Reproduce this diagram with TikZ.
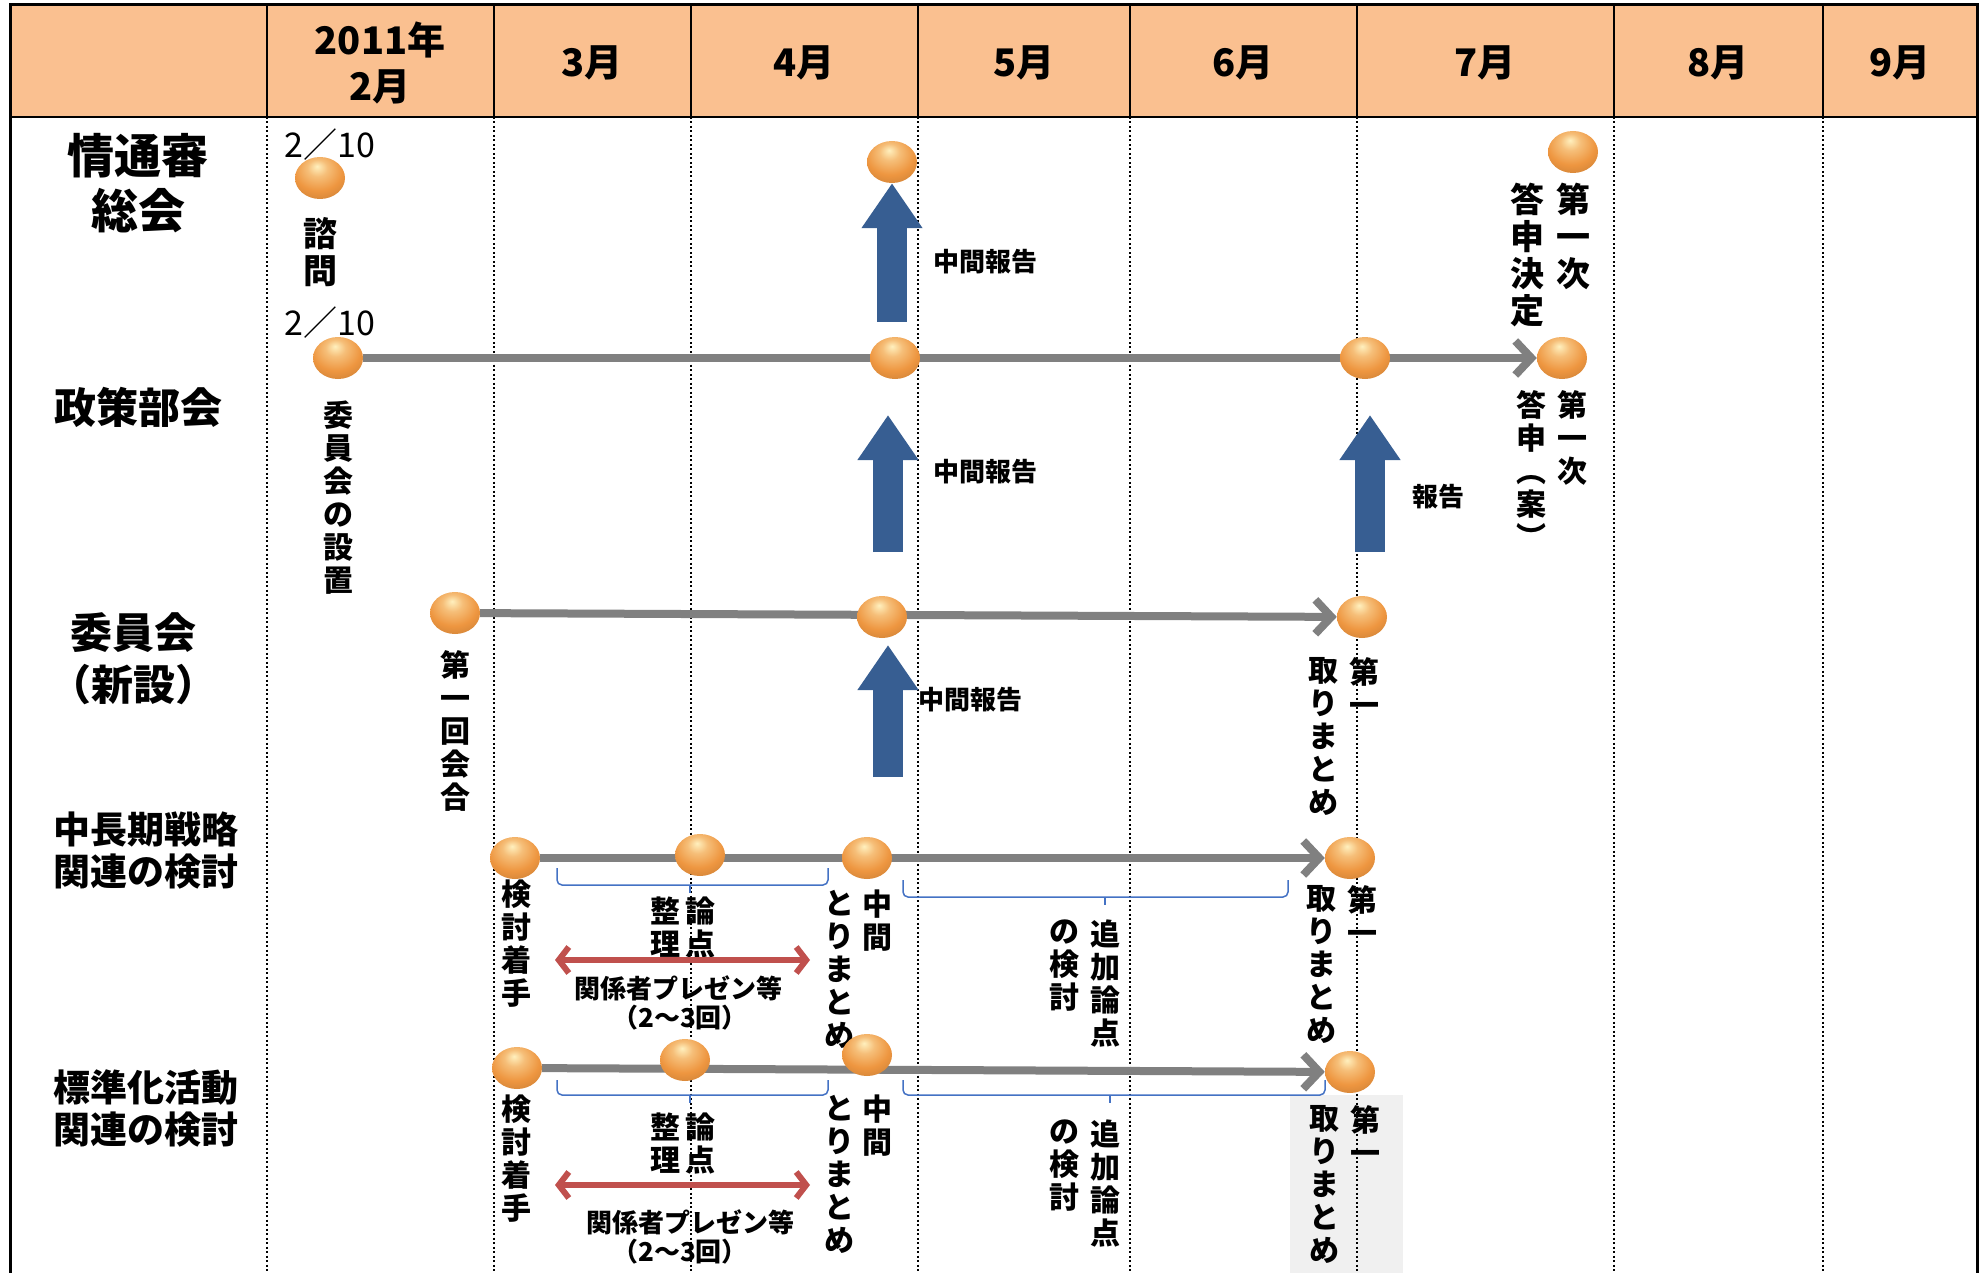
\documentclass[tikz,border=0pt]{standalone}
\usepackage{fontspec}
\setmainfont{Noto Sans CJK JP}
\usetikzlibrary{arrows.meta,backgrounds,positioning,shapes.geometric}

\definecolor{headfill}{RGB}{250,192,144}
\definecolor{beadcol}{RGB}{238,150,64}
\definecolor{beadhi}{RGB}{255,240,190}
\definecolor{repblue}{RGB}{55,94,146}
\definecolor{trackgray}{RGB}{128,128,128}
\definecolor{presred}{RGB}{192,80,77}
\definecolor{bracecol}{RGB}{68,114,196}

\pgfdeclareradialshading{beadshade}{\pgfpoint{-3bp}{14bp}}{%
  color(0bp)=(beadhi); color(10bp)=(beadcol!55!beadhi); color(24bp)=(beadcol);
  color(38bp)=(beadcol!85!black); color(50bp)=(beadcol!55!black); color(64bp)=(beadcol!40!black)}

\tikzset{
  bead/.style={ellipse,minimum width=50pt,minimum height=42pt,inner sep=0pt,shading=beadshade},
  track/.style={draw=trackgray,line width=8pt,-{Straight Barb[length=16pt,width=34pt]}},
  report/.style={draw=repblue,line width=30pt,-{Triangle[length=45pt,width=58pt]}},
  presen/.style={draw=presred,line width=6pt,{Straight Barb[length=10pt,width=26pt]}-{Straight Barb[length=10pt,width=26pt]}},
  brk/.style={draw=bracecol,line width=1.5pt,rounded corners=5pt},
  monthline/.style={line width=2pt,dash pattern=on 2pt off 2.5pt},
  rowlab/.style={font=\bfseries\fontsize{42}{52}\selectfont,align=center},
  rowlabs/.style={font=\bfseries\fontsize{37}{42}\selectfont,align=center},
  monthlab/.style={font=\bfseries\fontsize{38}{46}\selectfont,align=center},
  tate/.style={font=\bfseries\fontsize{30}{33}\selectfont,align=center,anchor=north,inner sep=0pt},
  tatebig/.style={tate,font=\bfseries\fontsize{34}{37}\selectfont},
  note/.style={font=\bfseries\fontsize{26}{30}\selectfont,align=center},
  datelab/.style={font=\fontsize{34}{36}\selectfont},
}

\begin{document}
\begin{tikzpicture}[x=1pt,y=-1pt]
  \useasboundingbox (0,0) rectangle (1981,1273);

  % grid and header
  \begin{scope}[on background layer]
    \fill[headfill] (10,5) rectangle (1977,117);
    \fill[gray!12] (1290,1095) rectangle (1403,1273);
    \foreach \x in {267,494,691,918,1130,1357,1614,1823} {
      \draw[line width=2pt] (\x,5) -- (\x,117);
      \draw[monthline] (\x,117) -- (\x,1273);
    }
    \draw[line width=2pt] (10,117) -- (1977,117);
    \draw[line width=3pt] (10,1273) -- (10,5) -- (1977,5) -- (1977,1273);
  \end{scope}

  \node[monthlab] (feb) at (380,63) {2011年\\2月};
  \node[monthlab] (mar) at (592,63) {3月};
  \node[monthlab] (apr) at (804,63) {4月};
  \node[monthlab] (may) at (1024,63) {5月};
  \node[monthlab] (jun) at (1243,63) {6月};
  \node[monthlab] (jul) at (1485,63) {7月};
  \node[monthlab] (aug) at (1718,63) {8月};
  \node[monthlab] (sep) at (1900,63) {9月};

  % row labels
  \node[rowlab,font=\bfseries\fontsize{47}{55}\selectfont] (soukai) at (138,183) {情通審\\総会};
  \node[rowlab] (bukai) at (138,407) {政策部会};
  \node[rowlab] (iinkai) at (133,659) {委員会\\（新設）};
  \node[rowlabs] (chuchoki) at (146,851) {中長期戦略\\関連の検討};
  \node[rowlabs] (hyojun) at (146,1108) {標準化活動\\関連の検討};

  % 情通審総会
  \node[bead] (sou1) at (320,178) {};
  \node[datelab] (sou1date) at (330,145) {2／10};
  \node[tatebig,below=18pt of sou1] (sou1txt) {諮\\問};
  \node[bead] (sou2) at (892,162) {};
  \node[bead] (sou3) at (1573,152) {};
  \node[tatebig,below=10pt of sou3] (sou3txt) {第\\一\\次};
  \node[tatebig,left=11pt of sou3txt.north west,anchor=north east] (sou3txtb) {答\\申\\決\\定};

  % 政策部会
  \node[bead] (bu1) at (338,358) {};
  \node[datelab] (bu1date) at (330,323) {2／10};
  \node[tate,below=21pt of bu1] (bu1txt) {委\\員\\会\\の\\設\\置};
  \node[bead] (bu2) at (895,358) {};
  \node[bead] (bu3) at (1365,358) {};
  \node[bead] (bu4) at (1562,358) {};
  \node[tate] (bu4txt) at (1572,390) {第\\一\\次};
  \node[tate,left=10pt of bu4txt.north west,anchor=north east] (bu4txtb) {答\\申\\︵\\案\\︶};

  % 委員会
  \node[bead] (iin1) at (455,613) {};
  \node[tate,below=16pt of iin1] (iin1txt) {第\\一\\回\\会\\合};
  \node[bead] (iin2) at (882,617) {};
  \node[bead] (iin3) at (1362,617) {};
  \node[tate] (iin3txt) at (1364,657) {第\\一};
  \node[tate,left=10pt of iin3txt.north west,anchor=north east] (iin3txtb) {取\\り\\ま\\と\\め};

  % 中長期戦略
  \node[bead] (chu1) at (515,858) {};
  \node[bead] (chu2) at (700,855) {};
  \node[bead] (chu3) at (867,858) {};
  \node[bead] (chu4) at (1350,858) {};
  \node[tate] (chu1txt) at (516,880) {検\\討\\着\\手};
  \node[tate] (chu2txt) at (700,897) {論\\点};
  \node[tate,left=4pt of chu2txt.north west,anchor=north east] (chu2txtb) {整\\理};
  \node[tate] (chu3txt) at (877,890) {中\\間};
  \node[tate,left=7pt of chu3txt.north west,anchor=north east] (chu3txtb) {と\\り\\ま\\と\\め};
  \node[tate] (chuadd) at (1105,920) {追\\加\\論\\点};
  \node[tate,left=10pt of chuadd.north west,anchor=north east] (chuaddb) {の\\検\\討};
  \node[tate] (chu4txt) at (1362,885) {第\\一};
  \node[tate,left=10pt of chu4txt.north west,anchor=north east] (chu4txtb) {取\\り\\ま\\と\\め};
  \node[note] (chupres) at (678,988) {関係者プレゼン等};
  \node[note] (chucnt) at (680,1018) {（2～3回）};

  % 標準化活動
  \node[bead] (hyo1) at (517,1068) {};
  \node[bead] (hyo2) at (685,1060) {};
  \node[bead] (hyo3) at (867,1055) {};
  \node[bead] (hyo4) at (1350,1072) {};
  \node[tate] (hyo1txt) at (516,1095) {検\\討\\着\\手};
  \node[tate] (hyo2txt) at (700,1113) {論\\点};
  \node[tate,left=4pt of hyo2txt.north west,anchor=north east] (hyo2txtb) {整\\理};
  \node[tate] (hyo3txt) at (877,1095) {中\\間};
  \node[tate,left=7pt of hyo3txt.north west,anchor=north east] (hyo3txtb) {と\\り\\ま\\と\\め};
  \node[tate] (hyoadd) at (1105,1120) {追\\加\\論\\点};
  \node[tate,left=10pt of hyoadd.north west,anchor=north east] (hyoaddb) {の\\検\\討};
  \node[tate] (hyo4txt) at (1365,1105) {第\\一};
  \node[tate,left=10pt of hyo4txt.north west,anchor=north east] (hyo4txtb) {取\\り\\ま\\と\\め};
  \node[note] (hyopres) at (690,1222) {関係者プレゼン等};
  \node[note] (hyocnt) at (680,1252) {（2～3回）};

  % time lines
  \begin{scope}[on background layer]
    \draw[track] (bu1) -- (bu4);
    \draw[track] (iin1) -- (iin3);
    \draw[track] (chu1) -- (chu4);
    \draw[track] (hyo1) -- (hyo4);
  \end{scope}

  % reports upward
  \coordinate (up1) at (892,322);
  \draw[report] (up1) -- (sou2);
  \node[note] (rep1) at (985,262) {中間報告};
  \coordinate (up2a) at (888,552);
  \coordinate (up2b) at (888,415);
  \draw[report] (up2a) -- (up2b);
  \node[note] (rep2) at (985,472) {中間報告};
  \coordinate (up3a) at (1370,552);
  \coordinate (up3b) at (1370,415);
  \draw[report] (up3a) -- (up3b);
  \node[note] (rep3) at (1438,497) {報告};
  \coordinate (up4a) at (888,777);
  \coordinate (up4b) at (888,645);
  \draw[report] (up4a) -- (up4b);
  \node[note] (rep4) at (970,700) {中間報告};

  % presentations
  \coordinate (pr1a) at (555,960);
  \coordinate (pr1b) at (810,960);
  \draw[presen] (pr1a) -- (pr1b);
  \coordinate (pr2a) at (555,1185);
  \coordinate (pr2b) at (810,1185);
  \draw[presen] (pr2a) -- (pr2b);

  % brackets
  \draw[brk] (557,868) |- (828,885) -- (828,868);
  \draw[brk] (690,885) -- (690,893);
  \draw[brk] (903,880) |- (1288,897) -- (1288,880);
  \draw[brk] (1105,897) -- (1105,905);
  \draw[brk] (557,1080) |- (828,1095) -- (828,1080);
  \draw[brk] (690,1095) -- (690,1103);
  \draw[brk] (903,1080) |- (1325,1095) -- (1325,1080);
  \draw[brk] (1110,1095) -- (1110,1103);
\end{tikzpicture}
\end{document}
